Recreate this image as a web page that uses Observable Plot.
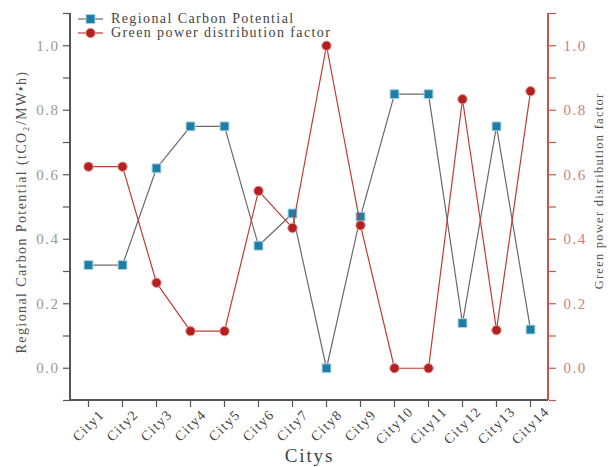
<!DOCTYPE html>
<html>
<head>
<meta charset="utf-8">
<script src="https://cdn.jsdelivr.net/npm/d3@7"></script>
<script src="https://cdn.jsdelivr.net/npm/@observablehq/plot@0.6"></script>
<style>
  html, body { margin: 0; padding: 0; background: #fff; }
  #wrap { position: relative; width: 611px; height: 467px; font-family: "Liberation Serif", "DejaVu Serif", serif; }
  #legend { position: absolute; left: 78px; top: 12px; font-size: 14px; color: #444; line-height: 14px; letter-spacing: 0.1em; }
  #legend .row { display: flex; align-items: center; height: 14px; white-space: pre; }
  #legend svg { margin-right: 8px; }
  #chart svg text { letter-spacing: 0.1em; }
</style>
</head>
<body>
<div id="wrap"><div id="chart"></div><div id="legend"></div></div>
<script>
const cities = ["City1","City2","City3","City4","City5","City6","City7","City8","City9","City10","City11","City12","City13","City14"];
const carbonPotential = [0.32,0.32,0.62,0.75,0.75,0.38,0.48,0.0,0.47,0.85,0.85,0.14,0.75,0.12];
const greenFactor = [0.625,0.625,0.265,0.115,0.115,0.55,0.435,1.0,0.443,0.0,0.0,0.834,0.118,0.859];
const yMajorTicks = [0,0.2,0.4,0.6,0.8,1.0];
const yMinorTicks = [-0.1,0.1,0.3,0.5,0.7,0.9,1.1];
const seriesNames = ["Regional Carbon Potential","Green power distribution factor"];
const xTitle = "Citys";
const yLeftTitle = "Regional Carbon Potential (tCO\u2082/MW\u2022h)";
const yRightTitle = "Green power distribution factor";

const rows = cities.map((c,i) => ({city:c, carbon:carbonPotential[i], green:greenFactor[i]}));

const BLUE = "#1f7ea6", BLUE_EDGE = "#a9d3e6", RED = "#b3201f", RED_EDGE = "#e49a9a";
const RED_LINE = "#c23b35", GRAY_LINE = "#6a6a6a";
const AXIS = "#555", RAXIS = "#c9534f";

const axisLines = (index, scales, values, dims) => {
  const {width, height, marginLeft, marginRight, marginTop, marginBottom} = dims;
  const g = d3.create("svg:g");
  const x0 = marginLeft, x1 = width - marginRight, y0 = marginTop, y1 = height - marginBottom;
  g.append("line").attr("x1", x0).attr("x2", x0).attr("y1", y0).attr("y2", y1).attr("stroke", AXIS).attr("stroke-width", 2);
  g.append("line").attr("x1", x0).attr("x2", x1).attr("y1", y1).attr("y2", y1).attr("stroke", AXIS).attr("stroke-width", 2);
  g.append("line").attr("x1", x1).attr("x2", x1).attr("y1", y0).attr("y2", y1).attr("stroke", RAXIS).attr("stroke-width", 2);
  return g.node();
};

const chart = Plot.plot({
  width: 611, height: 467,
  marginLeft: 70, marginRight: 63, marginTop: 13, marginBottom: 67,
  style: {fontFamily: "'Liberation Serif', 'DejaVu Serif', serif", background: "white", overflow: "visible"},
  x: {type: "point", domain: cities, padding: 0.5, axis: null},
  y: {domain: [-0.1, 1.1], axis: null},
  marks: [
    Plot.axisY(yMinorTicks, {anchor: "left", tickSize: 7, tickFormat: () => "", stroke: AXIS, strokeWidth: 1.2, label: null}),
    Plot.axisY(yMajorTicks, {anchor: "left", tickSize: 7, tickPadding: 4, tickFormat: d3.format(".1f"), stroke: AXIS, strokeWidth: 1.2, fill: "#9a9a9a", fontSize: 15, label: null}),
    Plot.axisY(yMinorTicks, {anchor: "right", tickSize: 7, tickFormat: () => "", stroke: RAXIS, strokeWidth: 1.2, label: null}),
    Plot.axisY(yMajorTicks, {anchor: "right", tickSize: 7, tickPadding: 8, tickFormat: d3.format(".1f"), stroke: RAXIS, strokeWidth: 1.2, fill: "#d27c7a", fontSize: 15, label: null}),
    Plot.axisX(cities, {anchor: "bottom", tickSize: 7, tickFormat: () => "", stroke: AXIS, strokeWidth: 1.2, label: null}),
    Plot.text(cities, {x: d => d, frameAnchor: "bottom", textAnchor: "middle", lineAnchor: "middle", dy: 25, rotate: -45, fontSize: 14, fill: "#444"}),
    axisLines,
    Plot.line(rows, {x: "city", y: "carbon", stroke: GRAY_LINE, strokeWidth: 1.2}),
    Plot.dot(rows, {x: "city", y: "carbon", symbol: "square", r: 5, fill: BLUE, stroke: BLUE_EDGE, strokeWidth: 1}),
    Plot.line(rows, {x: "city", y: "green", stroke: RED_LINE, strokeWidth: 1.2}),
    Plot.dot(rows, {x: "city", y: "green", r: 4.7, fill: RED, stroke: RED_EDGE, strokeWidth: 1}),
    Plot.text([xTitle], {frameAnchor: "bottom", textAnchor: "middle", lineAnchor: "middle", dy: 55, fontSize: 19, fill: "#444"}),
    Plot.text([yLeftTitle], {frameAnchor: "left", textAnchor: "middle", lineAnchor: "middle", dx: -49, dy: 5, rotate: -90, fontSize: 14, fill: "#555"}),
    Plot.text([yRightTitle], {frameAnchor: "right", textAnchor: "middle", lineAnchor: "middle", dx: 50, dy: -16, rotate: -90, fontSize: 12.5, fill: "#555"})
  ]
});
document.getElementById("chart").appendChild(chart);

const legend = document.getElementById("legend");
const legendStyles = [
  {line: GRAY_LINE, marker: `<rect x="8" y="2.5" width="9" height="9" fill="${BLUE}" stroke="${BLUE_EDGE}" stroke-width="1"/>`},
  {line: RED_LINE, marker: `<circle cx="12.5" cy="7" r="4.7" fill="${RED}" stroke="${RED_EDGE}" stroke-width="1"/>`}
];
seriesNames.forEach((name, i) => {
  const row = document.createElement("div");
  row.className = "row";
  row.innerHTML = `<svg width="25" height="14"><line x1="0" x2="25" y1="7" y2="7" stroke="${legendStyles[i].line}" stroke-width="1.2"/>${legendStyles[i].marker}</svg><span>${name}</span>`;
  legend.appendChild(row);
});
</script>
</body>
</html>
